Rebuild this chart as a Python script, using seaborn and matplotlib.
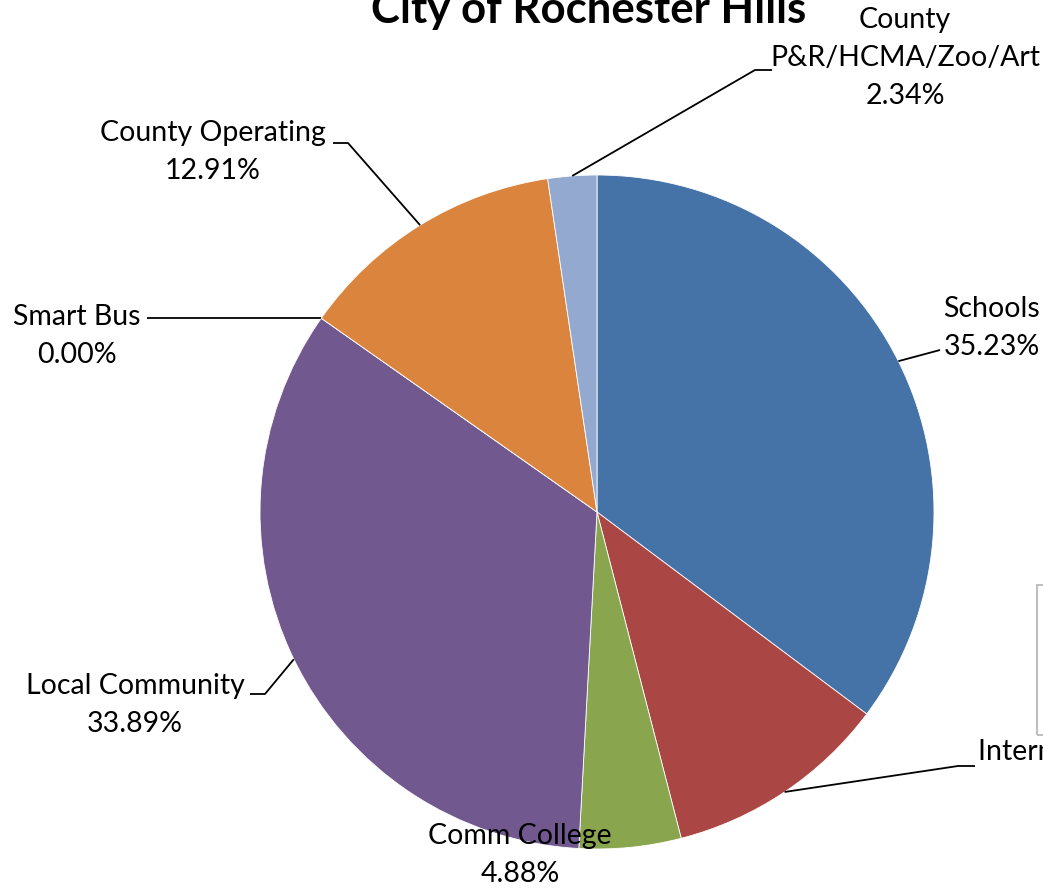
import numpy as np
import matplotlib
matplotlib.use("Agg")
import matplotlib.pyplot as plt
import seaborn as sns
from matplotlib.patches import Rectangle

# Datos del gráfico (porcentajes del impuesto)
categories = ["Schools", "Intermediate Schools", "Comm College", "Local Community",
              "Smart Bus", "County Operating", "County\nP&R/HCMA/Zoo/Art"]
shares = [35.23, 10.75, 4.88, 33.89, 0.00, 12.91, 2.34]
colors = ["#4572A7", "#AA4643", "#89A54E", "#71588F",
          "#4198AF", "#DB843D", "#93A9CF"]
title = "City of Rochester Hills"

sns.set_style("white")
plt.rcParams['font.family'] = ['Lato', 'DejaVu Sans']

W, H = 1043, 891
CX, CY, R = 597, 512, 337   # centro y radio del pastel en píxeles


def px(x, y):
    # pixel (desde arriba a la izquierda) -> unidades de datos
    return ((x - CX) / R, (CY - y) / R)


fig = plt.figure(figsize=(W / 100, H / 100), dpi=100)
ax = fig.add_axes([0, 0, 1, 1])
wedges, _ = ax.pie(shares, colors=sns.color_palette(colors), startangle=90,
                   counterclock=False, radius=1,
                   wedgeprops=dict(edgecolor="white", linewidth=0.6))
x0, y0 = px(0, 0)
x1, y1 = px(W, H)
ax.set_xlim(x0, x1)
ax.set_ylim(y1, y0)
ax.set_aspect('auto')
ax.axis('off')

# posiciones de etiquetas: (centro texto, codo, fin de línea, alineación)
layout = {
    "Schools": ((943, 328), None, (940, 350), "left"),
    "Intermediate Schools": ((978, 771), (958, 766), (975, 766), "left"),
    "Comm College": ((520, 855), None, None, "center"),
    "Local Community": ((135, 705), (265, 694), (250, 694), "center"),
    "Smart Bus": ((77, 336), None, (147, None), "center"),
    "County Operating": ((213, 152), (348, 143), (333, 143), "center"),
    "County\nP&R/HCMA/Zoo/Art": ((905, 58), (755, 70), (772, 70), "center"),
}

for w, cat, val in zip(wedges, categories, shares):
    (tx, ty), elbow, end, ha = layout[cat]
    ang = np.deg2rad((w.theta1 + w.theta2) / 2)
    ax_, ay_ = np.cos(ang), np.sin(ang)
    pts = [(ax_, ay_)]
    if elbow is not None:
        pts.append(px(*elbow))
    if end is not None:
        if end[1] is None:
            pts.append((px(end[0], 0)[0], ay_))
        else:
            pts.append(px(*end))
    if len(pts) > 1:
        xs, ys = zip(*pts)
        ax.plot(xs, ys, color="black", lw=1.3, solid_capstyle="butt")
    lx, ly = px(tx, ty)
    ax.text(lx, ly, f"{cat}\n{val:.2f}%", ha=ha, va="center",
            multialignment="center", fontsize=20.5, linespacing=1.58,
            color="black")

tx, ty = px(589, 23)
ax.text(tx, ty, title, ha="center", va="baseline", fontsize=31.5,
        fontweight="bold", color="black")

# recuadro de la leyenda (cortado en el borde)
fig.patches.append(Rectangle((1037 / W, 1 - 735 / H), 0.05, 150 / H,
                             transform=fig.transFigure, fill=False,
                             edgecolor="#BFBFBF", linewidth=1.5))

fig.savefig("out.png", dpi=100, facecolor="white")
